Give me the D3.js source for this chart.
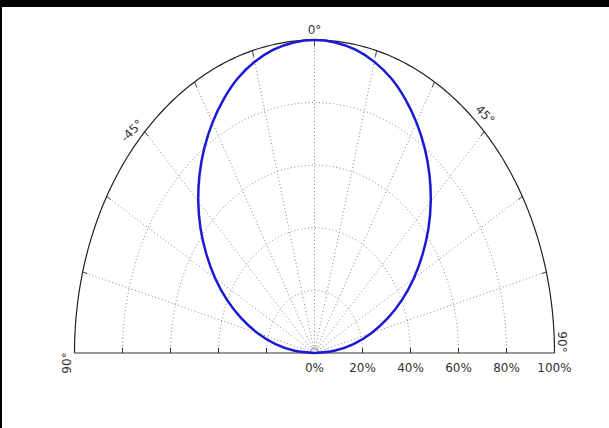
<!DOCTYPE html>
<html>
<head>
<meta charset="utf-8">
<script src="https://cdn.jsdelivr.net/npm/d3@7"></script>
<style>
  body { margin: 0; background: #fff; }
  svg { display: block; }
  text { font-family: "DejaVu Sans", sans-serif; }
</style>
</head>
<body>
<svg id="chart" width="609" height="428"></svg>
<script>
// curve data: angle (deg) and relative intensity
const angles = [-90, -85, -80, -75, -70, -65, -60, -55, -50, -45, -40, -35, -30, -25, -20, -15, -10, -5, 0,
                5, 10, 15, 20, 25, 30, 35, 40, 45, 50, 55, 60, 65, 70, 75, 80, 85, 90];
const values = [0, 0.083, 0.165, 0.245, 0.325, 0.403, 0.478, 0.55, 0.62, 0.685, 0.745, 0.80, 0.85, 0.895, 0.934, 0.963, 0.984, 0.996, 1,
                0.996, 0.984, 0.963, 0.934, 0.895, 0.85, 0.80, 0.745, 0.685, 0.62, 0.55, 0.478, 0.403, 0.325, 0.245, 0.165, 0.083, 0];
const radii = [0.2, 0.4, 0.6, 0.8];
const radialLabels = ["0%", "20%", "40%", "60%", "80%", "100%"];
const spokes = [-75, -60, -45, -30, -15, 0, 15, 30, 45, 60, 75];
const angleLabels = [
  {deg: 0, text: "0°"},
  {deg: 45, text: "45°"},
  {deg: -45, text: "-45°"},
  {deg: 90, text: "90°"},
  {deg: -90, text: "90°"}
];

const svg = d3.select("#chart");
const cx = 314.5, cy = 353, rx = 240, ry = 313;

const xScale = d3.scaleLinear().domain([-1, 1]).range([cx - rx, cx + rx]);
const yScale = d3.scaleLinear().domain([0, 1]).range([cy, cy - ry]);
const rad = d => d * Math.PI / 180;
function pt(r, deg) { return [xScale(r * Math.sin(rad(deg))), yScale(r * Math.cos(rad(deg)))]; }

svg.append("rect").attr("width", 609).attr("height", 428).attr("fill", "#fff");

const line = d3.line();
const arcAngles = d3.range(-90, 90.5, 1);

// dotted circles
svg.append("g").selectAll("path").data(radii).enter().append("path")
  .attr("d", r => line(arcAngles.map(a => pt(r, a))))
  .attr("fill", "none").attr("stroke", "#888").attr("stroke-width", 1)
  .attr("stroke-dasharray", "1,2.5");

// tiny center semicircle
svg.append("path")
  .attr("d", line(arcAngles.map(a => pt(0.018, a))))
  .attr("fill", "none").attr("stroke", "#888").attr("stroke-width", 1);

// spokes
svg.append("g").selectAll("line").data(spokes).enter().append("line")
  .attr("x1", cx).attr("y1", cy)
  .attr("x2", a => pt(1, a)[0]).attr("y2", a => pt(1, a)[1])
  .attr("stroke", "#888").attr("stroke-width", 1).attr("stroke-dasharray", "1,2.5");

// outer arc
svg.append("path")
  .attr("d", line(arcAngles.map(a => pt(1, a))))
  .attr("fill", "none").attr("stroke", "#222").attr("stroke-width", 1.2);

// outer ticks
svg.append("g").selectAll("line").data(spokes).enter().append("line")
  .attr("x1", a => pt(1, a)[0]).attr("y1", a => pt(1, a)[1])
  .attr("x2", a => pt(0.98, a)[0]).attr("y2", a => pt(0.98, a)[1])
  .attr("stroke", "#444").attr("stroke-width", 1);

// baseline
svg.append("line")
  .attr("x1", xScale(-1)).attr("x2", xScale(1)).attr("y1", cy).attr("y2", cy)
  .attr("stroke", "#333").attr("stroke-width", 1.2);
const baseTicks = radii.concat(radii.map(r => -r));
svg.append("g").selectAll("line").data(baseTicks).enter().append("line")
  .attr("x1", d => xScale(d)).attr("x2", d => xScale(d))
  .attr("y1", cy).attr("y2", cy - 5)
  .attr("stroke", "#333").attr("stroke-width", 1);

// radial labels
svg.append("g").selectAll("text").data(radialLabels).enter().append("text")
  .attr("x", (d, i) => xScale(i * 0.2)).attr("y", cy + 19)
  .attr("text-anchor", "middle").attr("font-size", 12).attr("fill", "#333")
  .text(d => d);

// curve
const pts = angles.map((a, i) => pt(values[i], a));
svg.append("path")
  .attr("d", d3.line().curve(d3.curveCatmullRom)(pts))
  .attr("fill", "none").attr("stroke", "#1a1ad2").attr("stroke-width", 2.5);

// angle labels
const labelPos = {
  "0": {dx: 0, dy: -10, rot: 0},
  "45": {dx: 1, dy: -17, rot: 45},
  "-45": {dx: -13, dy: -1, rot: -45},
  "90": {dx: 8, dy: -11, rot: 90},
  "-90": {dx: -8, dy: 10, rot: -90}
};
svg.append("g").selectAll("text").data(angleLabels).enter().append("text")
  .attr("transform", d => {
    const p = pt(1, d.deg), o = labelPos[d.deg];
    return "translate(" + (p[0] + o.dx) + "," + (p[1] + o.dy) + ") rotate(" + o.rot + ")";
  })
  .attr("text-anchor", "middle").attr("dy", "0.35em")
  .attr("font-size", 12).attr("fill", "#333")
  .text(d => d.text);

// frame bars
svg.append("rect").attr("x", 0).attr("y", 0).attr("width", 609).attr("height", 7).attr("fill", "#000");
svg.append("rect").attr("x", 0).attr("y", 0).attr("width", 2).attr("height", 428).attr("fill", "#000");
</script>
</body>
</html>
